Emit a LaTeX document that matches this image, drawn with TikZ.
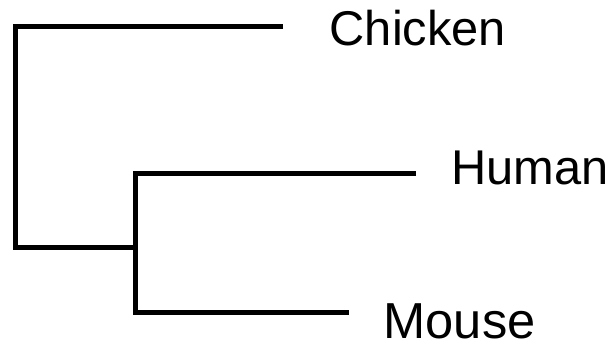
\documentclass[tikz,border=0pt]{standalone}
\usepackage{fontspec}
\setmainfont{Liberation Sans}
\usepackage{tikz}

\begin{document}
\begin{tikzpicture}[
  x=0.5pt,
  y=-0.5pt,
  branch/.style={
    draw=black,
    line width=2.5pt,
    line join=miter
  },
  taxon/.style={
    anchor=base west,
    inner sep=0pt,
    font=\fontsize{24.4}{27}\selectfont
  }
]
\useasboundingbox (0,0) rectangle (610,341);

% leaves
\node[taxon] (chicken) at (329.3,45.5) {Chicken};
\node[taxon] (human) at (451,185) {Human};
\node[taxon,font=\fontsize{25.3}{28}\selectfont] (mouse) at (383.3,338.8) {Mouse};

% branch tips and inner nodes
\coordinate (tipC) at (283,26.5);
\coordinate (tipH) at (416,174);
\coordinate (tipM) at (349,313);
\coordinate (root) at (15.5,248);
\coordinate (hm) at (135.5,248);

\draw[branch] (tipC) -| (root) -- (hm);
\draw[branch] (tipH) -| (hm) |- (tipM);
\end{tikzpicture}
\end{document}
